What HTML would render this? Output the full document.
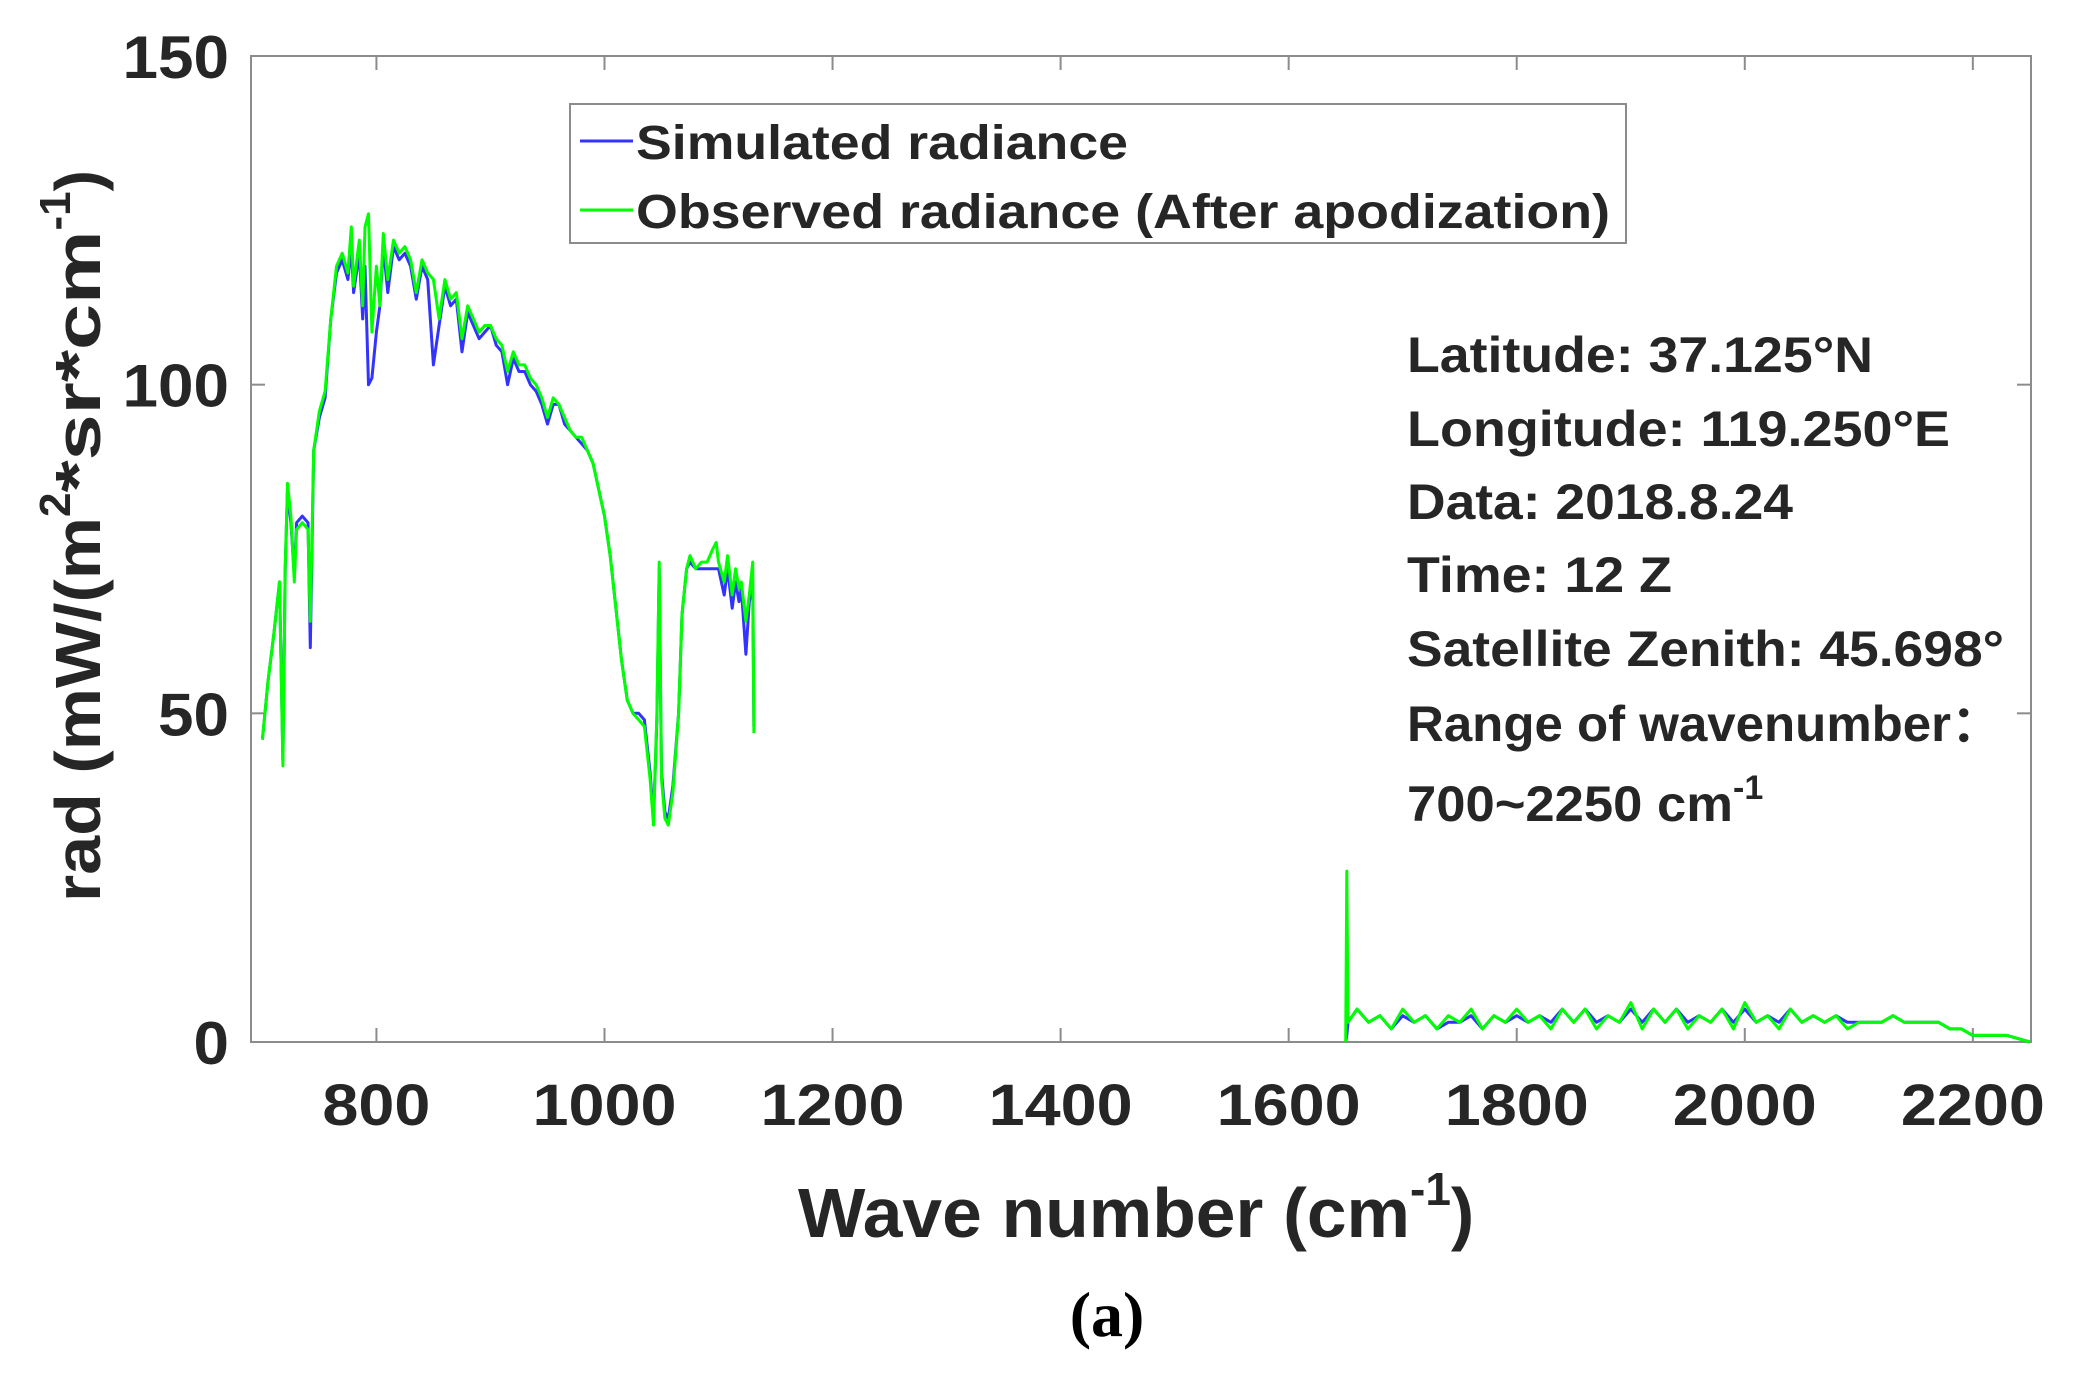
<!DOCTYPE html>
<html><head><meta charset="utf-8"><style>
html,body{margin:0;padding:0;background:#fff;}
svg{display:block;font-family:"Liberation Sans",Arial,sans-serif;}
</style></head><body>
<svg id="chart" width="2079" height="1384" viewBox="0 0 2079 1384" xmlns="http://www.w3.org/2000/svg">
<g id="axes"></g>
<g id="series"></g>
<g>
<rect x="570" y="104" width="1056" height="139" fill="#fff" stroke="#8c8c8c" stroke-width="2"/>
<line x1="580" y1="141" x2="633" y2="141" stroke="#3333ff" stroke-width="3"/>
<text x="636" y="159" font-size="48" font-weight="bold" fill="#262626" textLength="492" lengthAdjust="spacingAndGlyphs">Simulated radiance</text>
<line x1="580" y1="210" x2="633" y2="210" stroke="#00ff00" stroke-width="3"/>
<text x="636" y="228" font-size="48" font-weight="bold" fill="#262626" textLength="974" lengthAdjust="spacingAndGlyphs">Observed radiance (After apodization)</text>
</g>
<g font-size="50" font-weight="bold" fill="#262626">
<text x="1407" y="372" textLength="466" lengthAdjust="spacingAndGlyphs">Latitude: 37.125°N</text>
<text x="1407" y="446" textLength="543" lengthAdjust="spacingAndGlyphs">Longitude: 119.250°E</text>
<text x="1407" y="519" textLength="386" lengthAdjust="spacingAndGlyphs">Data: 2018.8.24</text>
<text x="1407" y="592" textLength="265" lengthAdjust="spacingAndGlyphs">Time: 12 Z</text>
<text x="1407" y="666" textLength="597" lengthAdjust="spacingAndGlyphs">Satellite Zenith: 45.698°</text>
<text x="1407" y="741" textLength="595" lengthAdjust="spacingAndGlyphs">Range of wavenumber：</text>
<text x="1407" y="821"><tspan textLength="326" lengthAdjust="spacingAndGlyphs">700~2250 cm</tspan><tspan dy="-22" font-size="34">-1</tspan></text>
</g>
<text x="798" y="1237" font-size="70" font-weight="bold" fill="#262626"><tspan textLength="612" lengthAdjust="spacingAndGlyphs">Wave number (cm</tspan><tspan dy="-32" font-size="46">-1</tspan><tspan dy="32">)</tspan></text>
<text transform="translate(100,902) rotate(-90)" font-size="64" font-weight="bold" fill="#262626"><tspan textLength="385" lengthAdjust="spacingAndGlyphs">rad (mW/(m</tspan><tspan dy="-30" font-size="44">2</tspan><tspan dy="30" textLength="262" lengthAdjust="spacingAndGlyphs">*sr*cm</tspan><tspan dy="-30" font-size="44">-1</tspan><tspan dy="30">)</tspan></text>
<text x="1107" y="1336" text-anchor="middle" font-size="64" font-weight="bold" fill="#000" font-family="Liberation Serif,serif">(a)</text>
</svg>
<script>
const xTicks=[800,1000,1200,1400,1600,1800,2000,2200];
const yTicks=[0,50,100,150];
const waveA=[700,705,710,715,718,720,722,725,728,730,735,740,742,745,750,755,760,765,770,775,778,780,785,788,790,793,796,800,803,806,810,815,820,825,830,835,840,845,850,855,860,865,870,875,880,885,890,895,900,905,910,915,920,925,930,935,940,945,950,955,960,965,970,975,980,985,990,995,1000,1005,1010,1015,1020,1025,1030,1035,1040,1043,1046,1048,1050,1053,1056,1060,1065,1068,1072,1075,1080,1085,1090,1095,1098,1100,1105,1108,1112,1115,1118,1120,1124,1127,1130,1131];
const obsA=[46,55,62,70,42,72,85,80,70,78,79,78,64,90,96,99,110,118,120,117,124,115,122,112,124,126,108,118,112,123,116,122,120,121,119,114,119,117,116,110,116,113,114,107,112,110,108,109,109,107,106,102,105,103,103,101,100,98,95,98,97,95,93,92,92,90,88,84,80,74,66,58,52,50,49,48,40,33,50,73,40,34,33,38,50,65,72,74,72,73,73,75,76,73,70,74,68,72,69,70,64,68,73,47];
const simA=[46,55,62,70,43,72,84,79,71,79,80,79,60,90,95,98,110,117,119,116,121,114,120,110,118,100,101,108,112,121,114,121,119,120,118,113,118,116,103,109,115,112,113,105,111,109,107,108,109,106,105,100,104,102,102,100,99,97,94,97,97,94,93,92,91,90,88,84,80,74,66,58,52,50,50,49,41,34,49,72,41,35,34,39,50,65,72,73,72,72,72,72,72,72,68,72,66,70,67,69,59,67,70,48];
const waveB=[1650,1651,1652,1660,1670,1680,1690,1700,1710,1720,1730,1740,1750,1760,1770,1780,1790,1800,1810,1820,1830,1840,1850,1860,1870,1880,1890,1900,1910,1920,1930,1940,1950,1960,1970,1980,1990,2000,2010,2020,2030,2040,2050,2060,2070,2080,2090,2100,2110,2120,2130,2140,2150,2160,2170,2180,2190,2200,2210,2220,2230,2240,2250];
const obsB=[0,26,3,5,3,4,2,5,3,4,2,4,3,5,2,4,3,5,3,4,2,5,3,5,2,4,3,6,2,5,3,5,2,4,3,5,2,6,3,4,2,5,3,4,3,4,2,3,3,3,4,3,3,3,3,2,2,1,1,1,1,0.5,0];
const simB=[0,1,3,5,3,4,2,4,3,4,2,3,3,4,2,4,3,4,3,4,3,5,3,5,3,4,3,5,3,5,3,5,3,4,3,5,3,5,3,4,3,5,3,4,3,4,3,3,3,3,4,3,3,3,3,2,2,1,1,1,1,0.5,0];
const L=251,R=2031,T=56,B=1042,XMIN=690,XMAX=2251,YMAX=150;
const sx=v=>L+(v-XMIN)/(XMAX-XMIN)*(R-L);
const sy=v=>B-v/YMAX*(B-T);
const NS="http://www.w3.org/2000/svg";
const axes=document.getElementById('axes'),series=document.getElementById('series');
function mk(tag,attrs,parent){const e=document.createElementNS(NS,tag);for(const k in attrs)e.setAttribute(k,attrs[k]);parent.appendChild(e);return e;}
const frame=mk('rect',{x:L,y:T,width:R-L,height:B-T,fill:'none',stroke:'#8c8c8c','stroke-width':2},axes);


xTicks.forEach(v=>{const x=sx(v);
 mk('line',{x1:x,y1:B,x2:x,y2:B-14,stroke:'#8c8c8c','stroke-width':2},axes);
 mk('line',{x1:x,y1:T,x2:x,y2:T+14,stroke:'#8c8c8c','stroke-width':2},axes);
 const s=String(v);
 const t=mk('text',{x:x-s.length*18,y:1125,'font-size':58,'font-weight':'bold',fill:'#262626',textLength:s.length*36,lengthAdjust:'spacingAndGlyphs'},axes);t.textContent=s;
 
 });
yTicks.forEach(v=>{const y=sy(v);
 mk('line',{x1:L,y1:y,x2:L+14,y2:y,stroke:'#8c8c8c','stroke-width':2},axes);
 mk('line',{x1:R,y1:y,x2:R-14,y2:y,stroke:'#8c8c8c','stroke-width':2},axes);
 const s=String(v);
 const t=mk('text',{x:229-s.length*35.5,y:y+22,'font-size':60,'font-weight':'bold',fill:'#262626',textLength:s.length*35.5,lengthAdjust:'spacingAndGlyphs'},axes);t.textContent=s;
 
 });
function line(w,v,color,name){const d=w.map((x,i)=>(i?'L':'M')+sx(x).toFixed(1)+' '+sy(v[i]).toFixed(1)).join(' ');
 const p=mk('path',{d:d,fill:'none',stroke:color,'stroke-width':3,'stroke-linejoin':'round'},series);
 
 }
line(waveA,simA,'#3333ff','simulated-line-lw');
line(waveB,simB,'#3333ff','simulated-line-sw');
line(waveA,obsA,'#00ff00','observed-line-lw');
line(waveB,obsB,'#00ff00','observed-line-sw');
</script>
</body></html>
